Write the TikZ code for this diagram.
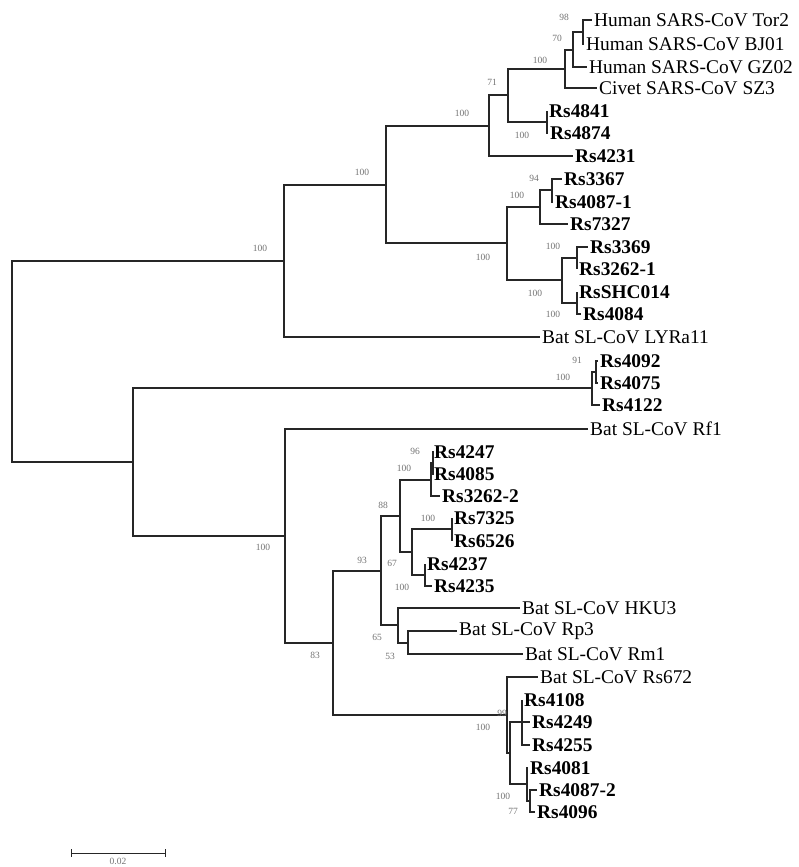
\documentclass[tikz,border=0pt]{standalone}
\usepackage{fontspec}
\setmainfont{Liberation Serif}
\usepackage{tikz}

\begin{document}
\begin{tikzpicture}[x=1pt, y=-1pt,
	leaf/.style = {anchor=west, inner sep=2pt, font=\fontsize{19.4}{19.4}\selectfont},
	rsleaf/.style = {leaf, font=\fontsize{19.4}{19.4}\selectfont\bfseries},
	boot/.style = {inner sep=0pt, text=black!55, font=\fontsize{9.5}{9.5}\selectfont},
	branch/.style = {draw=black!85, line width=1.1pt}]
	\useasboundingbox (0,0) rectangle (799,867);

	% leaves
	\node[leaf] (tor2) at (592,20) {Human SARS-CoV Tor2};
	\node[leaf] (bj01) at (584,44) {Human SARS-CoV BJ01};
	\node[leaf] (gz02) at (587,67) {Human SARS-CoV GZ02};
	\node[leaf] (sz3) at (597,88) {Civet SARS-CoV SZ3};
	\node[rsleaf] (r4841) at (547,111) {Rs4841};
	\node[rsleaf] (r4874) at (548,133) {Rs4874};
	\node[rsleaf] (r4231) at (573,156) {Rs4231};
	\node[rsleaf] (r3367) at (562,179) {Rs3367};
	\node[rsleaf] (r40871) at (553,202) {Rs4087-1};
	\node[rsleaf] (r7327) at (568,224) {Rs7327};
	\node[rsleaf] (r3369) at (588,247) {Rs3369};
	\node[rsleaf] (r32621) at (577,269) {Rs3262-1};
	\node[rsleaf] (rshc014) at (577,292) {RsSHC014};
	\node[rsleaf] (r4084) at (581,314) {Rs4084};
	\node[leaf] (lyra11) at (540,337) {Bat SL-CoV LYRa11};
	\node[rsleaf] (r4092) at (598,361) {Rs4092};
	\node[rsleaf] (r4075) at (598,383) {Rs4075};
	\node[rsleaf] (r4122) at (600,405) {Rs4122};
	\node[leaf] (rf1) at (588,429) {Bat SL-CoV Rf1};
	\node[rsleaf] (r4247) at (432,452) {Rs4247};
	\node[rsleaf] (r4085) at (432,474) {Rs4085};
	\node[rsleaf] (r32622) at (440,496) {Rs3262-2};
	\node[rsleaf] (r7325) at (452,518) {Rs7325};
	\node[rsleaf] (r6526) at (452,541) {Rs6526};
	\node[rsleaf] (r4237) at (425,564) {Rs4237};
	\node[rsleaf] (r4235) at (432,586) {Rs4235};
	\node[leaf] (hku3) at (520,608) {Bat SL-CoV HKU3};
	\node[leaf] (rp3) at (457,631) {Bat SL-CoV Rp3};
	\node[leaf] (rm1) at (523,654) {Bat SL-CoV Rm1};
	\node[leaf] (rs672) at (538,677) {Bat SL-CoV Rs672};
	\node[rsleaf] (r4108) at (522,700) {Rs4108};
	\node[rsleaf] (r4249) at (530,722) {Rs4249};
	\node[rsleaf] (r4255) at (530,745) {Rs4255};
	\node[rsleaf] (r4081) at (528,768) {Rs4081};
	\node[rsleaf] (r40872) at (537,790) {Rs4087-2};
	\node[rsleaf] (r4096) at (535,812) {Rs4096};

	% inner nodes
	\coordinate (tb) at (583,32);
	\coordinate (hum) at (573,50);
	\coordinate (sars) at (565,69);
	\coordinate (rs48) at (547,122);
	\coordinate (cladeb) at (508,95);
	\coordinate (cladec) at (489,126);
	\coordinate (g) at (552,190);
	\coordinate (f) at (540,207);
	\coordinate (i) at (577,258);
	\coordinate (j) at (577,303);
	\coordinate (h) at (562,280);
	\coordinate (e) at (507,243);
	\coordinate (d) at (386,185);
	\coordinate (k) at (284,261);
	\coordinate (n) at (596,372);
	\coordinate (m) at (592,388);
	\coordinate (t) at (433,463);
	\coordinate (s) at (431,480);
	\coordinate (v) at (452,529);
	\coordinate (w) at (425,575);
	\coordinate (u) at (412,552);
	\coordinate (r) at (400,516);
	\coordinate (yy) at (408,643);
	\coordinate (xx) at (398,625);
	\coordinate (q) at (381,571);
	\coordinate (bb) at (522,722);
	\coordinate (dd) at (530,801);
	\coordinate (cc) at (527,784);
	\coordinate (aa) at (510,753);
	\coordinate (z) at (507,715);
	\coordinate (p) at (333,643);
	\coordinate (o) at (285,536);
	\coordinate (l) at (133,462);
	\coordinate (root) at (12,361);

	% branches
	\draw[branch] (tb) |- (tor2.west) (tb) |- (bj01.west);
	\draw[branch] (hum) |- (tb) (hum) |- (gz02.west);
	\draw[branch] (sars) |- (hum) (sars) |- (sz3.west);
	\draw[branch] (rs48) |- (r4841.west) (rs48) |- (r4874.west);
	\draw[branch] (cladeb) |- (sars) (cladeb) |- (rs48);
	\draw[branch] (cladec) |- (cladeb) (cladec) |- (r4231.west);
	\draw[branch] (g) |- (r3367.west) (g) |- (r40871.west);
	\draw[branch] (f) |- (g) (f) |- (r7327.west);
	\draw[branch] (i) |- (r3369.west) (i) |- (r32621.west);
	\draw[branch] (j) |- (rshc014.west) (j) |- (r4084.west);
	\draw[branch] (h) |- (i) (h) |- (j);
	\draw[branch] (e) |- (f) (e) |- (h);
	\draw[branch] (d) |- (cladec) (d) |- (e);
	\draw[branch] (k) |- (d) (k) |- (lyra11.west);
	\draw[branch] (n) |- (r4092.west) (n) |- (r4075.west);
	\draw[branch] (m) |- (n) (m) |- (r4122.west);
	\draw[branch] (t) |- (r4247.west) (t) |- (r4085.west);
	\draw[branch] (s) |- (t) (s) |- (r32622.west);
	\draw[branch] (v) |- (r7325.west) (v) |- (r6526.west);
	\draw[branch] (w) |- (r4237.west) (w) |- (r4235.west);
	\draw[branch] (u) |- (v) (u) |- (w);
	\draw[branch] (r) |- (s) (r) |- (u);
	\draw[branch] (yy) |- (rp3.west) (yy) |- (rm1.west);
	\draw[branch] (xx) |- (hku3.west) (xx) |- (yy);
	\draw[branch] (q) |- (r) (q) |- (xx);
	\draw[branch] (bb) |- (r4108.west) (bb) |- (r4249.west) (bb) |- (r4255.west);
	\draw[branch] (dd) |- (r40872.west) (dd) |- (r4096.west);
	\draw[branch] (cc) |- (r4081.west) (cc) |- (dd);
	\draw[branch] (aa) |- (bb) (aa) |- (cc);
	\draw[branch] (z) |- (rs672.west) (z) |- (aa);
	\draw[branch] (p) |- (q) (p) |- (z);
	\draw[branch] (o) |- (rf1.west) (o) |- (p);
	\draw[branch] (l) |- (m) (l) |- (o);
	\draw[branch] (root) |- (k) (root) |- (l);

	% bootstrap values
	\node[boot] (bs1) at (564,17) {98};
	\node[boot] (bs2) at (557,38) {70};
	\node[boot] (bs3) at (540,60) {100};
	\node[boot] (bs4) at (492,82) {71};
	\node[boot] (bs5) at (522,135) {100};
	\node[boot] (bs6) at (462,113) {100};
	\node[boot] (bs7) at (362,172) {100};
	\node[boot] (bs8) at (534,178) {94};
	\node[boot] (bs9) at (517,195) {100};
	\node[boot] (bs10) at (483,257) {100};
	\node[boot] (bs11) at (553,246) {100};
	\node[boot] (bs12) at (535,293) {100};
	\node[boot] (bs13) at (553,314) {100};
	\node[boot] (bs14) at (260,248) {100};
	\node[boot] (bs15) at (577,360) {91};
	\node[boot] (bs16) at (563,377) {100};
	\node[boot] (bs17) at (263,547) {100};
	\node[boot] (bs18) at (415,451) {96};
	\node[boot] (bs19) at (404,468) {100};
	\node[boot] (bs20) at (383,505) {88};
	\node[boot] (bs21) at (428,518) {100};
	\node[boot] (bs22) at (362,560) {93};
	\node[boot] (bs23) at (392,563) {67};
	\node[boot] (bs24) at (402,587) {100};
	\node[boot] (bs25) at (377,637) {65};
	\node[boot] (bs26) at (390,656) {53};
	\node[boot] (bs27) at (315,655) {83};
	\node[boot] (bs28) at (502,713) {99};
	\node[boot] (bs29) at (483,727) {100};
	\node[boot] (bs30) at (503,796) {100};
	\node[boot] (bs31) at (513,811) {77};

	% scale bar
	\coordinate (sbl) at (71,853);
	\coordinate (sbr) at (166,853);
	\draw[branch, line width=0.9pt, |-|] (sbl) -- (sbr);
	\node[boot] (sblabel) at (118,861) {0.02};
\end{tikzpicture}
\end{document}
